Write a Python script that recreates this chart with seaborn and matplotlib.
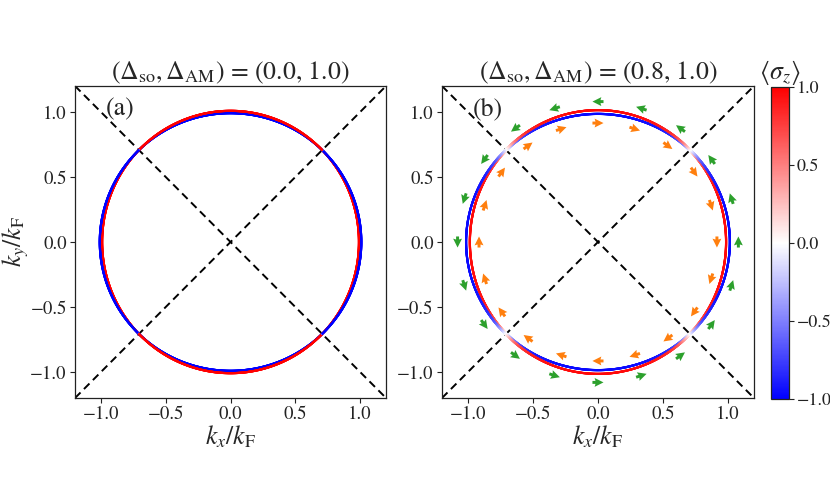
import numpy as np
import pandas as pd
import matplotlib
matplotlib.use("Agg")
import matplotlib.pyplot as plt
import seaborn as sns
from matplotlib.colors import Normalize
from matplotlib.cm import ScalarMappable

# ---- data / parameters ----
delta_so = [0.0, 0.8]
delta_am = [1.0, 1.0]
panel_labels = ["(a)", "(b)"]
split_scale = [0.009, 0.014]  # Fermi-surface splitting amplitude per panel (units of kF)
soc_weight = 0.35             # relative weight of SOC term in sigma_z mixing
arrow_angles_deg = [0, 18, 36, 54, 72, 90, 108, 126, 144, 162,
                    180, 198, 216, 234, 252, 270, 288, 306, 324, 342]
arrow_r_outer = 1.08
arrow_r_inner = 0.915
arrow_len = 0.085
xticks = [-1.0, -0.5, 0.0, 0.5, 1.0]
cbar_ticks = [-1.0, -0.5, 0.0, 0.5, 1.0]
lim = 1.2

sns.set_theme(style="ticks")
plt.rcParams["font.family"] = ["STIXGeneral", "DejaVu Serif"]
plt.rcParams["mathtext.fontset"] = "stix"
plt.rcParams["axes.edgecolor"] = "#222222"
plt.rcParams["xtick.color"] = "#222222"
plt.rcParams["ytick.color"] = "#222222"

BIG = 18.5
TICK = 13.5

fig = plt.figure(figsize=(8.3, 4.98), dpi=100)
ax_a = fig.add_axes([0.0904, 0.2008, 0.3747, 0.6265])
ax_b = fig.add_axes([0.5325, 0.2008, 0.3759, 0.6265])
cax = fig.add_axes([0.9289, 0.1988, 0.0217, 0.6265])

theta = np.linspace(0, 2 * np.pi, 3000, endpoint=False)

for ax, so, am, sp_amp, lab in zip([ax_a, ax_b], delta_so, delta_am, split_scale, panel_labels):
    diag = pd.DataFrame({"x": [-lim, lim], "y1": [-lim, lim], "y2": [lim, -lim]})
    sns.lineplot(data=diag, x="x", y="y1", ax=ax, color="black", lw=1.4,
                 linestyle=(0, (4, 2.5)), zorder=1)
    sns.lineplot(data=diag, x="x", y="y2", ax=ax, color="black", lw=1.4,
                 linestyle=(0, (4, 2.5)), zorder=1)

    c2 = np.cos(2 * theta)
    mag = np.sqrt((soc_weight * so) ** 2 + (am * c2) ** 2) + 1e-9
    rows = []
    for sgn in [-1, 1]:
        r = 1 + sgn * sp_amp * mag
        sz = -sgn * am * c2 / mag
        rows.append(pd.DataFrame({"x": r * np.cos(theta), "y": r * np.sin(theta), "sz": sz}))
    ring = pd.concat(rows, ignore_index=True)
    sns.scatterplot(data=ring, x="x", y="y", hue="sz", palette="bwr",
                    hue_norm=(-1, 1), s=2.6, linewidth=0, legend=False,
                    ax=ax, zorder=2)

    if so > 0:
        ang = np.deg2rad(np.array(arrow_angles_deg, dtype=float))
        qkw = dict(angles="xy", scale_units="xy", scale=1, pivot="mid",
                   width=0.0095, headwidth=3.0, headlength=3.0,
                   headaxislength=2.7, zorder=3)
        ax.quiver(arrow_r_outer * np.cos(ang), arrow_r_outer * np.sin(ang),
                  -arrow_len * np.sin(ang), arrow_len * np.cos(ang),
                  color="#2ca02c", **qkw)
        ax.quiver(arrow_r_inner * np.cos(ang), arrow_r_inner * np.sin(ang),
                  arrow_len * np.sin(ang), -arrow_len * np.cos(ang),
                  color="#ff7f0e", **qkw)

    ax.set_xlim(-lim, lim)
    ax.set_ylim(-lim, lim)
    ax.set_xticks(xticks)
    ax.set_yticks(xticks)
    ax.tick_params(direction="out", length=3.5, width=0.8, labelsize=TICK, pad=2.5)
    for spn in ax.spines.values():
        spn.set_linewidth(0.9)
    ax.set_xlabel(r"$k_x/k_{\rm F}$", fontsize=BIG, labelpad=0)
    ax.set_ylabel("")
    ax.set_title(r"$(\Delta_{\rm so}, \Delta_{\rm AM})$ = " + f"({so:.1f}, {am:.1f})",
                 fontsize=BIG, pad=4)
    ax.text(0.1, 0.925, lab, transform=ax.transAxes, fontsize=BIG,
            va="center", ha="left")

ax_a.set_ylabel(r"$k_y/k_{\rm F}$", fontsize=BIG)
ax_a.yaxis.set_label_coords(-0.14, 0.5)

sm = ScalarMappable(norm=Normalize(-1, 1), cmap="bwr")
cb = fig.colorbar(sm, cax=cax, ticks=cbar_ticks)
cb.ax.tick_params(labelsize=13, length=3.5, width=0.8, pad=2)
cb.outline.set_linewidth(0.9)
cax.set_title(r"$\langle\sigma_z\rangle$", fontsize=BIG, pad=3)

fig.savefig("out.png", dpi=100)
